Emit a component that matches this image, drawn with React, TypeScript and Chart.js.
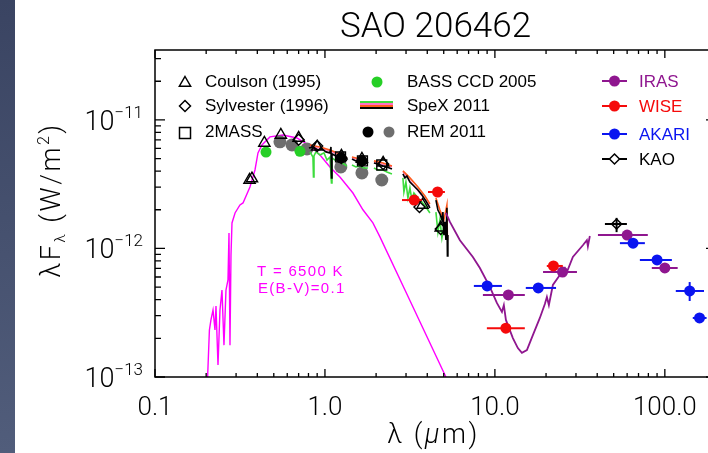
import React, { useEffect, useRef } from 'react';
import { Chart, registerables } from 'chart.js';

Chart.register(...registerables);

const CANVAS_W = 730;
const CANVAS_H = 453;
const PLOT_LEFT = 155;
const PLOT_TOP = 50;
const PLOT_RIGHT = 716;
const PLOT_BOTTOM = 377;

const X_MIN = 0.1;
const X_MAX = 200;
const Y_MIN = 1e-13;
const Y_MAX = 3.5e-11;

const xTickValues = [0.1, 1, 10, 100];
const xTickLabels = ['0.1', '1.0', '10.0', '100.0'];
const xDecades = [0.1, 1, 10, 100];
const yTickValues = [1e-13, 1e-12, 1e-11];
const yTickExponents = ['\u221213', '\u221212', '\u221211'];

const chartTitle = 'SAO 206462';
const modelNote = ['T = 6500 K', 'E(B-V)=0.1'];

// ---- Kurucz model (T = 6500 K) ----
const modelLambda = [0.204, 0.209, 0.2134, 0.2195, 0.2254, 0.2285, 0.2348, 0.2412, 0.2478, 0.2546, 0.2616, 0.2688, 0.2725, 0.2762, 0.28, 0.2838, 0.2958, 0.3162, 0.3295, 0.362, 0.3875, 0.4036, 0.4258, 0.4748, 0.566, 0.684, 0.816, 0.935, 1.07, 1.225, 1.461, 1.673, 1.915, 2.106, 3.162, 5.15];
const modelFlux = [1.0e-13, 2.32e-13, 2.78e-13, 3.32e-13, 2.32e-13, 3.57e-13, 1.24e-13, 3.32e-13, 4.75e-13, 1.77e-13, 4.75e-13, 5.69e-13, 1.32e-12, 1.77e-13, 8.9e-13, 1.58e-12, 1.89e-12, 2.18e-12, 2.26e-12, 3.01e-12, 4.08e-12, 5.53e-12, 6.38e-12, 7.38e-12, 7.64e-12, 7.24e-12, 6.28e-12, 5.34e-12, 4.31e-12, 3.6e-12, 2.7e-12, 2.0e-12, 1.58e-12, 1.23e-12, 3.94e-13, 1.0e-13];

// ---- IRS-like purple spectrum ----
const irsLambda = [5.15, 5.437, 6.225, 7.42, 8.16, 9.35, 10.27, 11.0, 11.29, 11.61, 12.76, 13.65, 14.42, 15.43, 16.73, 18.39, 19.68, 20.23, 20.78, 21.94, 24.12, 25.81, 26.52, 28.76, 32.93, 34.77, 35.25, 36.2];
const irsFlux = [1.89e-12, 1.61e-12, 1.16e-12, 8.59e-13, 7.05e-13, 5.01e-13, 3.77e-13, 3.21e-13, 3.63e-13, 2.78e-13, 2.01e-13, 1.68e-13, 1.54e-13, 1.62e-13, 2.12e-13, 2.88e-13, 3.7e-13, 4.19e-13, 3.63e-13, 5.2e-13, 6.22e-13, 7.05e-13, 6.56e-13, 8.59e-13, 1.06e-12, 1.16e-12, 1.04e-12, 1.25e-12];

// ---- SpeX 2011 ----
const spexBlackLambda = [0.805, 0.85, 0.91, 0.96, 1.014, 1.07, 1.085, 1.092, 1.1, 1.161, 1.225, 1.294, 1.347, 1.4, 1.442, 1.522, 1.607, 1.696, 1.79, 1.87, 1.942, 2.05, 2.194, 2.316, 2.479, 2.7, 2.876, 2.955, 3.036, 3.162, 3.338, 3.525, 3.721, 3.928, 4.146, 4.35, 4.498, 4.621, 4.748, 4.878, 4.945, 5.012, 5.08, 5.15, 5.22, 5.255, 5.291];
const spexBlackFlux = [6.05e-12, 6.16e-12, 5.84e-12, 5.95e-12, 5.64e-12, 5.54e-12, 6.16e-12, 3.54e-12, 5.44e-12, 5.25e-12, 5.15e-12, 4.97e-12, 4.8e-12, null, 4.97e-12, 4.8e-12, 4.71e-12, 4.71e-12, 4.54e-12, null, 4.63e-12, 4.54e-12, 4.38e-12, 4.31e-12, 4.15e-12, null, 3.8e-12, 3.54e-12, 3.66e-12, 3.29e-12, 3.06e-12, 2.85e-12, 2.61e-12, 2.34e-12, 2.07e-12, null, 2.38e-12, 1.99e-12, 1.86e-12, 1.67e-12, 1.92e-12, 1.27e-12, 1.61e-12, 1.165e-12, 2.07e-12, 8.74e-13, 1.27e-12];
const spexOrangeLambda = [0.816, 0.935, 1.07, 1.225, 1.347, 1.4, 1.442, 1.607, 1.79, 1.87, 1.942, 2.194, 2.479, 2.7, 2.876, 3.162, 3.525, 3.875, 4.146, 4.35, 4.498, 4.748, 5.012, 5.22, 5.255];
const spexOrangeFlux = [6.39e-12, 6.16e-12, 5.84e-12, 5.44e-12, 5.06e-12, null, 5.15e-12, 4.97e-12, 4.8e-12, null, 4.8e-12, 4.63e-12, 4.38e-12, null, 4.01e-12, 3.54e-12, 3.01e-12, 2.56e-12, 2.22e-12, null, 2.47e-12, 1.99e-12, 1.67e-12, 2.18e-12, 1.165e-12];
const spexGreenLambda = [0.816, 0.85, 0.856, 0.862, 0.885, 0.935, 0.987, 1.028, 1.07, 1.092, 1.1, 1.145, 1.225, 1.294, 1.347, 1.4, 1.442, 1.522, 1.607, 1.696, 1.79, 1.87, 1.942, 2.05, 2.194, 2.316, 2.479, 2.7, 2.876, 2.915, 2.995, 3.078, 3.162, 3.249, 3.338, 3.525, 3.721, 3.928, 4.146, 4.35, 4.498, 4.621, 4.748, 4.878, 5.012, 5.15];
const spexGreenFlux = [5.64e-12, 5.15e-12, 3.6e-12, 5.25e-12, 5.64e-12, 5.34e-12, 5.54e-12, 4.88e-12, 5.15e-12, 3.23e-12, 5.06e-12, 4.88e-12, 4.71e-12, 4.54e-12, 4.38e-12, null, 4.46e-12, 4.31e-12, 4.38e-12, 4.23e-12, 4.23e-12, null, 4.23e-12, 4.08e-12, 4.08e-12, 3.94e-12, 3.8e-12, null, 3.54e-12, 2.75e-12, 3.29e-12, 2.47e-12, 2.96e-12, 2.38e-12, 2.7e-12, 2.47e-12, 2.3e-12, 2.1e-12, 1.89e-12, null, 1.92e-12, 1.34e-12, 1.67e-12, 1.21e-12, 1.52e-12, 1.34e-12];
const spexPinkLambda = [0.816, 1.07, 1.347, 1.4, 1.442, 1.79, 1.87, 1.942, 2.479, 2.7, 2.876, 4.146];
const spexPinkFlux = [6.28e-12, 5.74e-12, 4.97e-12, null, 5.06e-12, 4.71e-12, null, 4.71e-12, 4.31e-12, null, 3.94e-12, 2.14e-12];

// ---- Photometry ----
const coulsonLambda = [0.36, 0.372, 0.44, 0.55, 0.7, 0.9, 1.25, 1.65, 2.2, 3.75, 4.8];
const coulsonFlux = [3.41e-12, 3.5e-12, 6.62e-12, 7.64e-12, 7.24e-12, 6.17e-12, 5.25e-12, 4.97e-12, 4.63e-12, 2.18e-12, 1.45e-12];
const sylvesterLambda = [0.7, 0.9, 1.25, 1.65, 2.2, 3.6, 4.8];
const sylvesterFlux = [7.0e-12, 6.28e-12, 5.06e-12, 4.8e-12, 4.54e-12, 2.1e-12, 1.42e-12];
const twomassLambda = [1.235, 1.662, 2.159];
const twomassFlux = [5.15e-12, 4.8e-12, 4.46e-12];
const bassLambda = [0.45, 0.713];
const bassFlux = [5.62e-12, 5.7e-12];
const remGreyLambda = [0.5435, 0.64, 0.7835, 1.24, 1.65, 2.16];
const remGreyFlux = [6.75e-12, 6.39e-12, 5.95e-12, 4.31e-12, 3.87e-12, 3.41e-12];
const remBlackLambda = [1.24, 1.65];
const remBlackFlux = [5.06e-12, 4.8e-12];

const irasLambda = [12, 25, 60, 100];
const irasFlux = [4.35e-13, 6.56e-13, 1.27e-12, 7.05e-13];
const irasXLow = [8.5, 19.2, 40.4, 83.8];
const irasXHigh = [15.0, 30.4, 79.4, 119];

const wiseLambda = [3.35, 4.6, 11.6, 22.1];
const wiseFlux = [2.38e-12, 2.75e-12, 2.4e-13, 7.31e-13];
const wiseXLow = [2.84, 4.04, 8.97, 20.2];
const wiseXHigh = [3.72, 5.08, 15.0, 25.1];

const akariLambda = [9, 18, 65, 90, 140, 160];
const akariFlux = [5.11e-13, 4.93e-13, 1.1e-12, 8.15e-13, 4.67e-13, 2.88e-13];
const akariXLow = [7.52, 15.2, 54.4, 71.3, 116, 146];
const akariXHigh = [11.0, 22.9, 76.3, 110, 170, 176];
const akariYLow = [null, null, null, null, 3.9e-13, null];
const akariYHigh = [null, null, null, null, 5.48e-13, null];

const kaoLambda = [52];
const kaoFlux = [1.55e-12];
const kaoXLow = [44.4];
const kaoXHigh = [59.8];
const kaoYLow = [1.34e-12];
const kaoYHigh = [1.73e-12];

// ---- styles ----
const C_MAGENTA = '#ff00ff';
const C_PURPLE = '#8f168f';
const C_RED = '#f50a0a';
const C_BLUE = '#0a14f0';
const C_GREEN = '#26cf26';
const C_SPEX_GREEN = '#3ddc3d';
const C_PINK = '#ff6fc8';
const C_ORANGE = '#ff5a1e';
const C_GREY = '#6e6e6e';
const FONT = '"Liberation Sans", Arial, Helvetica, sans-serif';
const LIGHT = `Roboto, ${FONT}`;

const errorBars: Record<string, any> = {
  IRAS: { xLow: irasXLow, xHigh: irasXHigh },
  WISE: { xLow: wiseXLow, xHigh: wiseXHigh },
  AKARI: { xLow: akariXLow, xHigh: akariXHigh, yLow: akariYLow, yHigh: akariYHigh },
  KAO: { xLow: kaoXLow, xHigh: kaoXHigh, yLow: kaoYLow, yHigh: kaoYHigh },
};

const pts = (xs: number[], ys: (number | null)[]) => xs.map((x, i) => ({ x, y: ys[i] }));

function lineDs(label: string, xs: number[], ys: any[], color: string, width: number) {
  return {
    label,
    data: pts(xs, ys),
    showLine: true,
    borderColor: color,
    borderWidth: width,
    pointRadius: 0,
    spanGaps: false,
    fill: false,
  };
}

function pointDs(label: string, xs: number[], ys: any[], style: string, radius: number, fillC: string, strokeC: string, bw: number) {
  return {
    label,
    data: pts(xs, ys),
    showLine: false,
    borderColor: strokeC,
    backgroundColor: fillC,
    pointStyle: style,
    pointRadius: radius,
    pointBackgroundColor: fillC,
    pointBorderColor: strokeC,
    pointBorderWidth: bw,
  };
}

function drawRich(ctx: CanvasRenderingContext2D, parts: any[], x: number, y: number, align: string) {
  let total = 0;
  for (const p of parts) {
    ctx.font = p.font;
    total += ctx.measureText(p.t).width;
  }
  let cx = align === 'center' ? x - total / 2 : align === 'right' ? x - total : x;
  ctx.textAlign = 'left';
  for (const p of parts) {
    ctx.font = p.font;
    ctx.fillText(p.t, cx, y + (p.dy || 0));
    cx += ctx.measureText(p.t).width;
  }
}

function openTriangle(ctx: CanvasRenderingContext2D, x: number, y: number, r: number) {
  ctx.beginPath();
  ctx.moveTo(x, y - r);
  ctx.lineTo(x + r * 0.866, y + r * 0.5);
  ctx.lineTo(x - r * 0.866, y + r * 0.5);
  ctx.closePath();
  ctx.stroke();
}
function diamond(ctx: CanvasRenderingContext2D, x: number, y: number, r: number, fill?: string) {
  ctx.beginPath();
  ctx.moveTo(x, y - r);
  ctx.lineTo(x + r, y);
  ctx.lineTo(x, y + r);
  ctx.lineTo(x - r, y);
  ctx.closePath();
  if (fill) {
    ctx.fillStyle = fill;
    ctx.fill();
  }
  ctx.stroke();
}
function dot(ctx: CanvasRenderingContext2D, x: number, y: number, r: number, color: string) {
  ctx.beginPath();
  ctx.arc(x, y, r, 0, Math.PI * 2);
  ctx.fillStyle = color;
  ctx.fill();
}

const decorPlugin = {
  id: 'sedDecor',
  beforeDraw(chart: any) {
    const { ctx, width, height } = chart;
    ctx.save();
    ctx.fillStyle = '#ffffff';
    ctx.fillRect(0, 0, width, height);
    const g = ctx.createLinearGradient(0, 0, 0, height);
    g.addColorStop(0, '#3a4462');
    g.addColorStop(1, '#515d7b');
    ctx.fillStyle = g;
    ctx.fillRect(0, 0, 15, height);
    ctx.restore();
  },
  afterDatasetDraw(chart: any, args: any) {
    const ds = chart.data.datasets[args.index];
    const eb = errorBars[ds.label];
    if (!eb) return;
    const { ctx, chartArea: ca } = chart;
    const xs = chart.scales.x;
    const ys = chart.scales.y;
    ctx.save();
    ctx.beginPath();
    ctx.rect(ca.left, ca.top, ca.right - ca.left, ca.bottom - ca.top);
    ctx.clip();
    ctx.strokeStyle = ds.borderColor;
    ctx.lineWidth = 2;
    ds.data.forEach((p: any, i: number) => {
      const px = xs.getPixelForValue(p.x);
      const py = ys.getPixelForValue(p.y);
      ctx.beginPath();
      ctx.moveTo(xs.getPixelForValue(eb.xLow[i]), py);
      ctx.lineTo(xs.getPixelForValue(eb.xHigh[i]), py);
      ctx.stroke();
      if (eb.yLow && eb.yLow[i] != null) {
        ctx.beginPath();
        ctx.moveTo(px, ys.getPixelForValue(eb.yLow[i]));
        ctx.lineTo(px, ys.getPixelForValue(eb.yHigh[i]));
        ctx.stroke();
      }
    });
    ctx.restore();
  },
  afterDraw(chart: any) {
    const { ctx, chartArea: ca } = chart;
    const xs = chart.scales.x;
    const ys = chart.scales.y;
    ctx.save();
    ctx.strokeStyle = '#000';
    ctx.fillStyle = '#000';
    ctx.lineWidth = 1.5;
    ctx.strokeRect(ca.left, ca.top, ca.right - ca.left, ca.bottom - ca.top);

    // ticks
    ctx.lineWidth = 1.3;
    for (const dec of xDecades) {
      for (let k = 1; k <= 9; k++) {
        const v = k * dec;
        if (v < X_MIN * 0.999 || v > X_MAX * 1.001) continue;
        const px = xs.getPixelForValue(v);
        const len = k === 1 ? 8 : 4;
        ctx.beginPath();
        ctx.moveTo(px, ca.bottom);
        ctx.lineTo(px, ca.bottom - len);
        ctx.moveTo(px, ca.top);
        ctx.lineTo(px, ca.top + len);
        ctx.stroke();
      }
    }
    for (const dec of yTickValues) {
      for (let k = 1; k <= 9; k++) {
        const v = k * dec;
        if (v > Y_MAX * 1.001) continue;
        const py = ys.getPixelForValue(v);
        const len = k === 1 ? 10 : 6;
        ctx.beginPath();
        ctx.moveTo(ca.left, py);
        ctx.lineTo(ca.left + len, py);
        ctx.moveTo(ca.right, py);
        ctx.lineTo(ca.right - len, py);
        ctx.stroke();
      }
    }

    // x tick labels
    ctx.textBaseline = 'alphabetic';
    ctx.textAlign = 'center';
    ctx.font = `300 26px ${LIGHT}`;
    xTickValues.forEach((v, i) => {
      ctx.fillText(xTickLabels[i], xs.getPixelForValue(v), 415);
    });
    // y tick labels
    yTickValues.forEach((v, i) => {
      const py = ys.getPixelForValue(v);
      drawRich(ctx, [
        { t: '10', font: `300 27px ${LIGHT}` },
        { t: yTickExponents[i], font: `300 17px ${LIGHT}`, dy: -12 },
      ], ca.left - 12, py + 10, 'right');
    });

    // axis titles
    (ctx as any).letterSpacing = '2.5px';
    drawRich(ctx, [
      { t: '\u03bb (', font: `300 27px ${LIGHT}` },
      { t: '\u03bc', font: `italic 300 27px ${LIGHT}` },
      { t: 'm)', font: `300 27px ${LIGHT}` },
    ], (ca.left + ca.right) / 2 - 2, 443, 'center');

    ctx.save();
    ctx.translate(60, 200);
    ctx.rotate(-Math.PI / 2);
    drawRich(ctx, [
      { t: '\u03bbF', font: `300 27px ${LIGHT}` },
      { t: '\u03bb', font: `300 15px ${LIGHT}`, dy: 5 },
      { t: ' (W/m', font: `300 27px ${LIGHT}` },
      { t: '2', font: `300 16px ${LIGHT}`, dy: -11 },
      { t: ')', font: `300 27px ${LIGHT}` },
    ], 0, 0, 'center');
    ctx.restore();
    (ctx as any).letterSpacing = '0px';

    // title
    ctx.textAlign = 'center';
    ctx.font = `300 35px ${LIGHT}`;
    ctx.fillText(chartTitle, (ca.left + ca.right) / 2, 37);

    // model note
    ctx.fillStyle = C_MAGENTA;
    ctx.textAlign = 'left';
    ctx.textBaseline = 'middle';
    (ctx as any).letterSpacing = '1.3px';
    ctx.font = `15px ${FONT}`;
    ctx.fillText(modelNote[0], 257, 272);
    ctx.fillText(modelNote[1], 258, 289);
    (ctx as any).letterSpacing = '0px';

    // legend
    ctx.font = `17px ${FONT}`;
    ctx.fillStyle = '#000';
    ctx.strokeStyle = '#000';
    ctx.lineWidth = 1.5;
    openTriangle(ctx, 185, 83, 6.5);
    diamond(ctx, 185, 106, 5.5);
    ctx.strokeRect(179.5, 127.5, 11, 11);
    ctx.fillStyle = '#000';
    ctx.fillText('Coulson (1995)', 205, 82);
    ctx.fillText('Sylvester (1996)', 205, 106);
    ctx.fillText('2MASS', 205, 132);

    dot(ctx, 377, 82, 5.5, C_GREEN);
    const stripe = [C_SPEX_GREEN, C_PINK, C_ORANGE, '#000'];
    stripe.forEach((c, i) => {
      ctx.fillStyle = c;
      ctx.fillRect(360, 101 + i * 2, 33, 2);
    });
    dot(ctx, 368, 132, 5.5, '#000');
    dot(ctx, 389, 132, 5.5, C_GREY);
    ctx.fillStyle = '#000';
    ctx.fillText('BASS CCD 2005', 407, 82);
    ctx.fillText('SpeX 2011', 407, 106);
    ctx.fillText('REM 2011', 407, 132);

    const col3 = [
      { t: 'IRAS', c: C_PURPLE, y: 81 },
      { t: 'WISE', c: C_RED, y: 106 },
      { t: 'AKARI', c: C_BLUE, y: 134 },
    ];
    col3.forEach((e) => {
      ctx.strokeStyle = e.c;
      ctx.lineWidth = 2;
      ctx.beginPath();
      ctx.moveTo(602, e.y);
      ctx.lineTo(627, e.y);
      ctx.stroke();
      dot(ctx, 614.5, e.y, 5.5, e.c);
      ctx.fillStyle = e.c;
      ctx.fillText(e.t, 639, e.y + 1);
    });
    ctx.strokeStyle = '#000';
    ctx.lineWidth = 2;
    ctx.beginPath();
    ctx.moveTo(602, 159);
    ctx.lineTo(627, 159);
    ctx.stroke();
    ctx.lineWidth = 1.5;
    diamond(ctx, 614.5, 159, 5, '#fff');
    ctx.fillStyle = '#000';
    ctx.fillText('KAO', 639, 160);
    ctx.restore();
  },
};

export default function App() {
  const ref = useRef<HTMLCanvasElement | null>(null);
  useEffect(() => {
    const canvas = ref.current;
    if (!canvas) return;
    const layers: any[] = [
      lineDs('model', modelLambda, modelFlux, C_MAGENTA, 1.4),
      pointDs('REM grey', remGreyLambda, remGreyFlux, 'circle', 6.5, C_GREY, C_GREY, 0),
      pointDs('BASS', bassLambda, bassFlux, 'circle', 5.5, C_GREEN, C_GREEN, 0),
      lineDs('SpeX green', spexGreenLambda, spexGreenFlux, C_SPEX_GREEN, 1.6),
      lineDs('SpeX pink', spexPinkLambda, spexPinkFlux, C_PINK, 1.2),
      lineDs('SpeX orange', spexOrangeLambda, spexOrangeFlux, C_ORANGE, 1.6),
      lineDs('SpeX black', spexBlackLambda, spexBlackFlux, '#000', 1.6),
      pointDs('Coulson', coulsonLambda, coulsonFlux, 'triangle', 6.5, 'rgba(0,0,0,0)', '#000', 1.4),
      pointDs('Sylvester', sylvesterLambda, sylvesterFlux, 'rectRot', 5.5, 'rgba(0,0,0,0)', '#000', 1.4),
      pointDs('2MASS', twomassLambda, twomassFlux, 'rect', 7, 'rgba(0,0,0,0)', '#000', 1.4),
      pointDs('REM black', remBlackLambda, remBlackFlux, 'circle', 5.5, '#000', '#000', 0),
      lineDs('IRS', irsLambda, irsFlux, C_PURPLE, 1.8),
      pointDs('IRAS', irasLambda, irasFlux, 'circle', 5.5, C_PURPLE, C_PURPLE, 0),
      pointDs('WISE', wiseLambda, wiseFlux, 'circle', 5.5, C_RED, C_RED, 0),
      pointDs('AKARI', akariLambda, akariFlux, 'circle', 5.5, C_BLUE, C_BLUE, 0),
      pointDs('KAO', kaoLambda, kaoFlux, 'rectRot', 5, '#ffffff', '#000', 1.5),
    ];
    layers.forEach((d, i) => {
      d.order = layers.length - i;
    });
    const chart = new Chart(canvas, {
      type: 'line',
      data: { datasets: layers },
      options: {
        responsive: false,
        animation: false,
        devicePixelRatio: 1,
        events: [],
        layout: { padding: { top: PLOT_TOP, right: CANVAS_W - PLOT_RIGHT, left: 0, bottom: 0 } },
        plugins: {
          legend: { display: false },
          tooltip: { enabled: false },
          title: { display: false },
        },
        elements: { line: { tension: 0 } },
        scales: {
          x: {
            type: 'logarithmic',
            min: X_MIN,
            max: X_MAX,
            ticks: { display: false },
            grid: { display: false, drawTicks: false },
            border: { display: false },
            afterFit: (s: any) => {
              s.height = CANVAS_H - PLOT_BOTTOM;
            },
          },
          y: {
            type: 'logarithmic',
            min: Y_MIN,
            max: Y_MAX,
            ticks: { display: false },
            grid: { display: false, drawTicks: false },
            border: { display: false },
            afterFit: (s: any) => {
              s.width = PLOT_LEFT;
            },
          },
        },
      } as any,
      plugins: [decorPlugin as any],
    });
    return () => chart.destroy();
  }, []);
  return (
    <div style={{ position: 'fixed', left: 0, top: 0, width: 708, height: 453, overflow: 'hidden', background: '#fff' }}>
      <canvas ref={ref} width={CANVAS_W} height={CANVAS_H} style={{ display: 'block', width: CANVAS_W, height: CANVAS_H }} />
    </div>
  );
}
